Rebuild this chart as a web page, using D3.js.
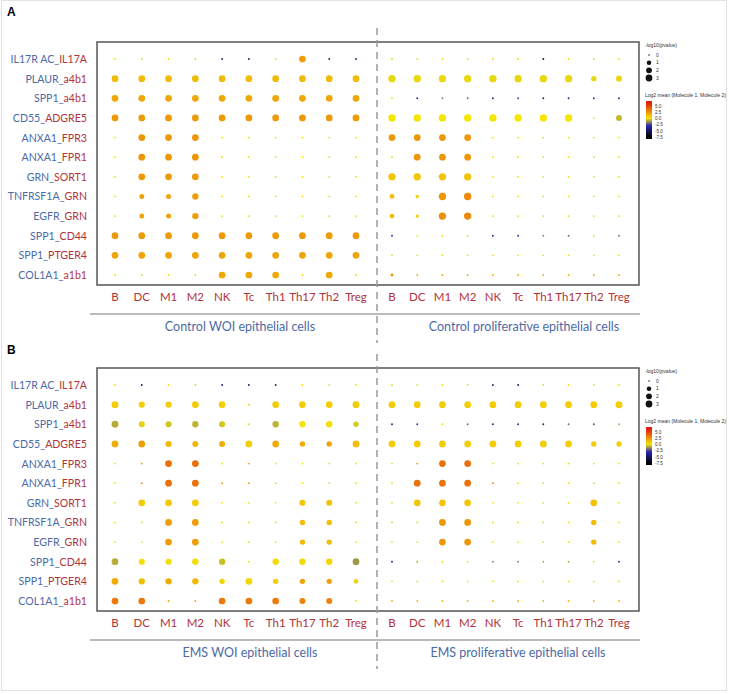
<!DOCTYPE html>
<html><head><meta charset="utf-8">
<script src="https://cdn.jsdelivr.net/npm/d3@7"></script>
<style>body{margin:0;background:#fff}svg{display:block}</style>
</head><body>
<script>
// ---------- DATA ----------
const ligands  = ["IL17R AC_","PLAUR_","SPP1_","CD55_","ANXA1_","ANXA1_","GRN_","TNFRSF1A_","EGFR_","SPP1_","SPP1_","COL1A1_"];
const receptors= ["IL17A","a4b1","a4b1","ADGRE5","FPR3","FPR1","SORT1","GRN","GRN","CD44","PTGER4","a1b1"];
const cells = ["B","DC","M1","M2","NK","Tc","Th1","Th17","Th2","Treg"];
const groupsA = ["Control WOI epithelial cells","Control proliferative epithelial cells"];
const groupsB = ["EMS WOI epithelial cells","EMS proliferative epithelial cells"];
const sizeTicks = [0,1,2,3];
const meanTicks = [5.0,2.5,0.0,-2.5,-5.0,-7.5];

// -log10(pvalue) per row: 10 left-group cells then 10 right-group cells
const sizeA = [
 [0,0,0,0,0,0,0,1.9,0,0,   0,0,0,0,0,0,0,0,0,0],
 [1.9,1.9,1.9,1.9,1.9,1.9,1.9,1.9,1.9,1.9,   2.4,2.4,2.4,2.4,2.4,2.4,2.4,2.4,1.0,1.4],
 [1.9,1.9,1.9,1.9,1.9,1.9,1.9,1.9,1.9,1.9,   0,0,0,0,0,0,0,0,0,0],
 [1.9,1.9,1.9,1.9,1.9,1.9,1.9,1.9,1.9,1.9,   2.4,2.4,2.4,2.4,2.4,2.4,2.4,2.4,0,1.4],
 [0,1.9,1.9,1.9,0,0,0,0,0,0,   1.9,1.9,1.9,1.9,0,0,0,0,0,0],
 [0,1.9,1.9,1.9,0,0,0,0,0,0,   0,1.9,1.9,1.9,0,0,0,0,0,0],
 [0,1.9,1.9,1.9,0,0,0,0,0,0,   2.4,2.4,2.4,2.4,0,0,0,0,0,0],
 [0,0.8,0.8,1.6,0,0,0,0,0,0,   0.7,0.2,2.4,2.4,0,0,0,0,0,0],
 [0,0.8,0.8,1.6,0,0,0,0,0,0,   0.7,0.2,2.4,2.4,0,0,0,0,0,0],
 [1.9,1.9,1.9,1.9,1.9,1.9,1.9,1.9,1.9,1.9,   0,0,0,0,0,0,0,0,0,0],
 [1.9,1.9,1.9,1.9,1.9,1.9,1.9,1.9,1.9,1.9,   0,0,0,0,0,0,0,0,0,0],
 [0,0,0,0,1.9,1.9,1.9,0,1.9,0,   0.1,0,0,0,0,0,0,0,0,0]
];
// log2 mean (Molecule 1, Molecule 2)
const meanA = [
 [0.3,0.3,0.3,0.3,-5,-5,0.3,2.2,-5,-5,   0.3,0.3,0.3,0.3,0.3,0.3,-6,0.3,0.3,0.3],
 [1.3,1.3,1.3,1.3,1.3,1.3,1.3,1.3,1.3,1.3,   -0.2,-0.2,-0.2,-0.2,-0.2,-0.2,-0.2,-0.2,-0.2,-0.2],
 [1.9,1.9,1.9,1.9,1.9,1.9,1.9,1.9,1.9,1.9,   0,-4,-1.5,-2,-4.5,-2.5,-4.5,-3.5,-3,-4.5],
 [2.3,2.3,2.3,2.3,2.3,2.3,2.3,2.3,2.3,2.3,   0,0,0,0,0,0,0,0,0.2,-0.7],
 [0.3,2.4,2.4,2.4,0.3,0.3,0.3,0.3,0.3,0.3,   2.4,2.4,2.4,2.4,0.3,0.3,0.3,0.3,0.3,0.3],
 [0.3,2.4,2.4,2.4,0.3,0.3,0.3,0.3,0.3,0.3,   0.3,2.4,2.4,2.4,0.3,0.3,0.3,0.3,0.3,0.3],
 [0.3,2.3,2.3,2.3,0.3,0.3,0.3,0.3,0.3,0.3,   1.0,1.0,1.0,1.0,0.3,0.3,0.3,0.3,0.3,0.3],
 [0.3,2.0,2.0,2.2,0.3,0.3,0.3,0.3,0.3,0.3,   1.2,0.6,2.5,2.8,0.3,0.3,0.3,0.3,0.3,0.3],
 [0.3,2.0,2.0,2.2,0.3,0.3,0.3,0.3,0.3,0.3,   1.2,0.8,2.6,2.8,0.3,0.3,0.3,0.3,0.3,0.3],
 [2.3,2.3,2.3,2.3,2.3,2.3,2.3,2.3,2.3,2.3,   -3,0,0.2,0.3,-4,-3.5,-1.5,-2,0.2,-2],
 [2.0,2.0,2.0,2.0,2.0,2.0,2.0,2.0,2.0,2.0,   0.3,0.3,0.3,0.3,0.3,0.3,0.3,0.3,0.3,0.3],
 [0.5,0.5,0.5,0.5,1.9,1.9,1.9,0.5,1.9,0.5,   2.5,1.8,1.8,1.8,1.8,1.8,1.8,1.8,1.8,1.8]
];
const sizeB = [
 [0,0,0,0,0,0,0,0,0,0,   0,0,0,0,0,0,0,0,0,0],
 [2.0,1.4,1.4,1.8,1.8,0,1.8,1.8,1.8,2.0,   1.9,1.9,1.9,1.9,1.9,1.9,1.9,1.9,1.9,2.1],
 [2.0,1.4,1.4,1.6,1.4,0,1.6,1.6,1.6,1.0,   0,0,0,0,0,0,0,0,0,0],
 [1.9,1.9,1.4,1.4,1.4,1.9,1.9,1.0,1.0,1.9,   1.9,1.9,1.9,1.9,1.9,1.9,1.9,1.9,1.0,1.0],
 [0,0,1.9,1.9,0,0,0,0,0,0,   0,0,1.9,1.9,0,0,0,0,0,0],
 [0,0,1.9,1.9,0,0,0,0,0,0,   0,1.9,1.9,1.9,0,0,0,0,0,0],
 [0,1.9,1.9,1.9,0,0,0,1.4,1.4,0,   0,1.9,1.9,1.9,0,0,0,0,1.9,0],
 [0,0,1.9,1.9,0,0,0,1.0,1.0,0,   0,0,1.9,1.9,0,0,0,0,1.0,0],
 [0,0,1.9,1.9,0,0,0,1.0,1.0,0,   0,0,1.9,1.9,0,0,0,0,1.0,0],
 [1.9,1.4,1.4,1.6,1.6,0,1.6,1.6,1.6,1.9,   0,0,0,0,0,0,0,0,0,0],
 [1.9,1.6,1.6,1.6,1.0,1.9,1.0,1.0,1.0,0.6,   0,0,0,0,0,0,0,0,0,0],
 [1.9,1.9,0,0,1.9,1.9,1.9,1.4,1.4,0,   0,0,0,0,0,0,0,0,0,0]
];
const meanB = [
 [0.3,-5,0.3,0.3,-5,-5,-5,0.3,0.3,0.3,   0.3,0.3,0.3,0.3,-5,-5.5,0.3,0.3,0.3,0.3],
 [0.8,0.8,0.8,0.8,0.8,0.8,0.8,0.8,0.8,0.8,   0.8,0.8,0.8,0.8,0.8,0.8,0.8,0.8,0.8,0.8],
 [-0.9,-0.3,-0.5,-0.8,-0.5,0.2,-0.8,0.1,0.2,-0.4,   -4.5,-3,0.3,-2,-4.5,-4,-4.5,-2,-2.5,-1],
 [1.8,2.2,1.4,1.4,1.7,0.8,1.8,1.8,2.0,1.2,   0.8,0.8,0.8,0.8,0.8,0.8,0.8,0.8,0.8,0.8],
 [0.3,2.5,3.6,3.6,0.3,2.0,0.3,0.3,0.3,0.3,   0.3,2.5,3.6,3.6,0.3,0.3,0.3,0.3,0.3,0.3],
 [0.3,2.5,3.6,3.5,2.5,2.2,0.5,0.3,0.3,0.3,   0.3,3.5,3.5,3.5,3.0,0.3,0.3,0.3,0.3,0.3],
 [0.3,0.8,0.9,0.8,0.3,0.3,0.3,1.1,1.1,0.3,   0.3,1.0,1.0,1.0,0.3,0.3,0.3,0.3,1.1,0.3],
 [0.3,0.3,2.2,2.2,0.3,0.3,0.3,1.3,1.2,0.3,   0.3,0.3,2.4,2.4,0.3,0.3,0.3,0.3,1.3,0.3],
 [0.3,0.3,2.2,2.2,0.3,0.3,0.3,1.3,1.2,0.3,   0.3,0.3,2.4,2.4,0.3,0.3,0.3,0.3,1.3,0.3],
 [-0.9,0.2,0.3,0.3,-0.6,0.2,0.3,0.4,0.5,-1.2,   -4,-1,0.3,0.3,-1.5,-1.5,-1,-1,0.3,-3.5],
 [1.8,1.2,1.7,1.5,0.6,0.5,0.8,2.0,2.0,0.6,   0.3,0.3,0.3,0.3,0.3,0.3,0.3,0.3,0.3,0.3],
 [3.3,3.3,2.0,2.0,3.3,3.3,3.2,3.0,3.0,0.4,   1.5,1.5,1.5,1.5,1.5,1.5,1.5,1.5,1.5,1.5]
];

// ---------- DRAW ----------
const W = 729, H = 694;
const svg = d3.select("body").append("svg").attr("width", W).attr("height", H);
svg.append("rect").attr("x",1.5).attr("y",0.5).attr("width",725).attr("height",690)
   .attr("fill","none").attr("stroke","#e2e2e2");

const color = d3.scaleLinear().domain([-7.5,-3,0,6])
  .range(["#000000","#2525b5","#f5e600","#e3200f"]).clamp(true);
const rScale = d3.scaleSqrt().domain([0,3]).range([0.9,4]);

const BLUE = "#4d6aa6", RED = "#b2333a";
const FONT = "Lato, 'Open Sans', sans-serif";

function panel(letter, top, letterY, sizes, means, groups, gx) {
  const g = svg.append("g");
  const box = {x0:97, x1:639, y0: top, y1: top+243};
  g.append("text").attr("x",7).attr("y",letterY).attr("font-family","Liberation Sans, Arial")
   .attr("font-weight","bold").attr("font-size",12).text(letter);
  g.append("rect").attr("x",box.x0).attr("y",box.y0).attr("width",box.x1-box.x0)
   .attr("height",box.y1-box.y0).attr("fill","none").attr("stroke","#555").attr("stroke-width",1.5);

  const y = d3.scalePoint().domain(d3.range(ligands.length)).range([top+17, top+233]);
  const xL = d3.scalePoint().domain(cells).range([115,356]);
  const xR = d3.scalePoint().domain(cells).range([392,619]);

  // row labels
  const rl = g.append("g").selectAll("text").data(ligands).join("text")
    .attr("x",87).attr("y",(d,i)=>y(i)+4).attr("text-anchor","end")
    .attr("font-family",FONT).attr("font-size",10.6);
  rl.append("tspan").attr("fill",BLUE).text(d=>d);
  rl.append("tspan").attr("fill",RED).text((d,i)=>receptors[i]);

  // dots
  const dots = [];
  sizes.forEach((row,i)=>row.forEach((s,j)=>{
    dots.push({i, j, s, m: means[i][j]});
  }));
  g.append("g").selectAll("circle").data(dots).join("circle")
    .attr("cx",d=> d.j<10 ? xL(cells[d.j]) : xR(cells[d.j-10]))
    .attr("cy",d=>y(d.i))
    .attr("r",d=>rScale(d.s))
    .attr("fill",d=>color(d.m));

  // x tick labels
  const lblY = box.y1+16;
  [xL,xR].forEach(x=>{
    g.append("g").selectAll("text").data(cells).join("text")
      .attr("x",d=>x(d)).attr("y",lblY).attr("text-anchor","middle")
      .attr("font-family",FONT).attr("font-size",11.5).attr("fill",RED).text(d=>d);
  });
  // group line
  g.append("line").attr("x1",90).attr("x2",640).attr("y1",box.y1+29).attr("y2",box.y1+29)
   .attr("stroke","#777").attr("stroke-width",1);
  g.append("text").attr("x",gx[0]).attr("y",box.y1+46).attr("text-anchor","middle")
   .attr("font-family",FONT).attr("font-size",12.5).attr("fill",BLUE).text(groups[0]);
  g.append("text").attr("x",gx[1]).attr("y",box.y1+46).attr("text-anchor","middle")
   .attr("font-family",FONT).attr("font-size",12.5).attr("fill",BLUE).text(groups[1]);
  // dashed separator
  g.append("line").attr("x1",377).attr("x2",377).attr("y1",top-14).attr("y2",box.y1+58)
   .attr("stroke","#9a9a9a").attr("stroke-width",1.5).attr("stroke-dasharray","7,5");

  // legend
  const lg = g.append("g").attr("font-family","Liberation Sans, Arial").attr("fill","#333");
  lg.append("text").attr("x",645).attr("y",top+5).attr("font-size",5).text("-log10(pvalue)");
  const sy = d3.scalePoint().domain(sizeTicks).range([top+13, top+36]);
  lg.selectAll("circle").data(sizeTicks).join("circle")
    .attr("cx",649).attr("cy",d=>sy(d)).attr("r",d=>rScale(d)*0.85).attr("fill","#111");
  lg.selectAll("text.st").data(sizeTicks).join("text").attr("class","st")
    .attr("x",656).attr("y",d=>sy(d)+1.8).attr("font-size",5).text(d=>d);
  lg.append("text").attr("x",645).attr("y",top+55).attr("font-size",5)
    .text("Log2 mean (Molecule 1, Molecule 2)");
  const cb = d3.scaleLinear().domain([7,-8.3]).range([top+59, top+97]);
  const gid = "grad"+letter;
  const grad = svg.append("defs").append("linearGradient").attr("id",gid)
    .attr("x1",0).attr("x2",0).attr("y1",0).attr("y2",1);
  d3.range(0,1.0001,0.05).forEach(t=>{
    grad.append("stop").attr("offset",t).attr("stop-color",color(7 - t*15.3));
  });
  lg.append("rect").attr("x",646).attr("y",cb(7)).attr("width",6).attr("height",cb(-8.3)-cb(7))
    .attr("fill",`url(#${gid})`);
  lg.selectAll("text.mt").data(meanTicks).join("text").attr("class","mt")
    .attr("x",655).attr("y",d=>cb(d)+1.8).attr("font-size",4.6).text(d=>d.toFixed(1));
}

panel("A", 42, 16, sizeA, meanA, groupsA, [240,524]);
panel("B", 368, 354, sizeB, meanB, groupsB, [250,518]);
</script>
</body></html>
